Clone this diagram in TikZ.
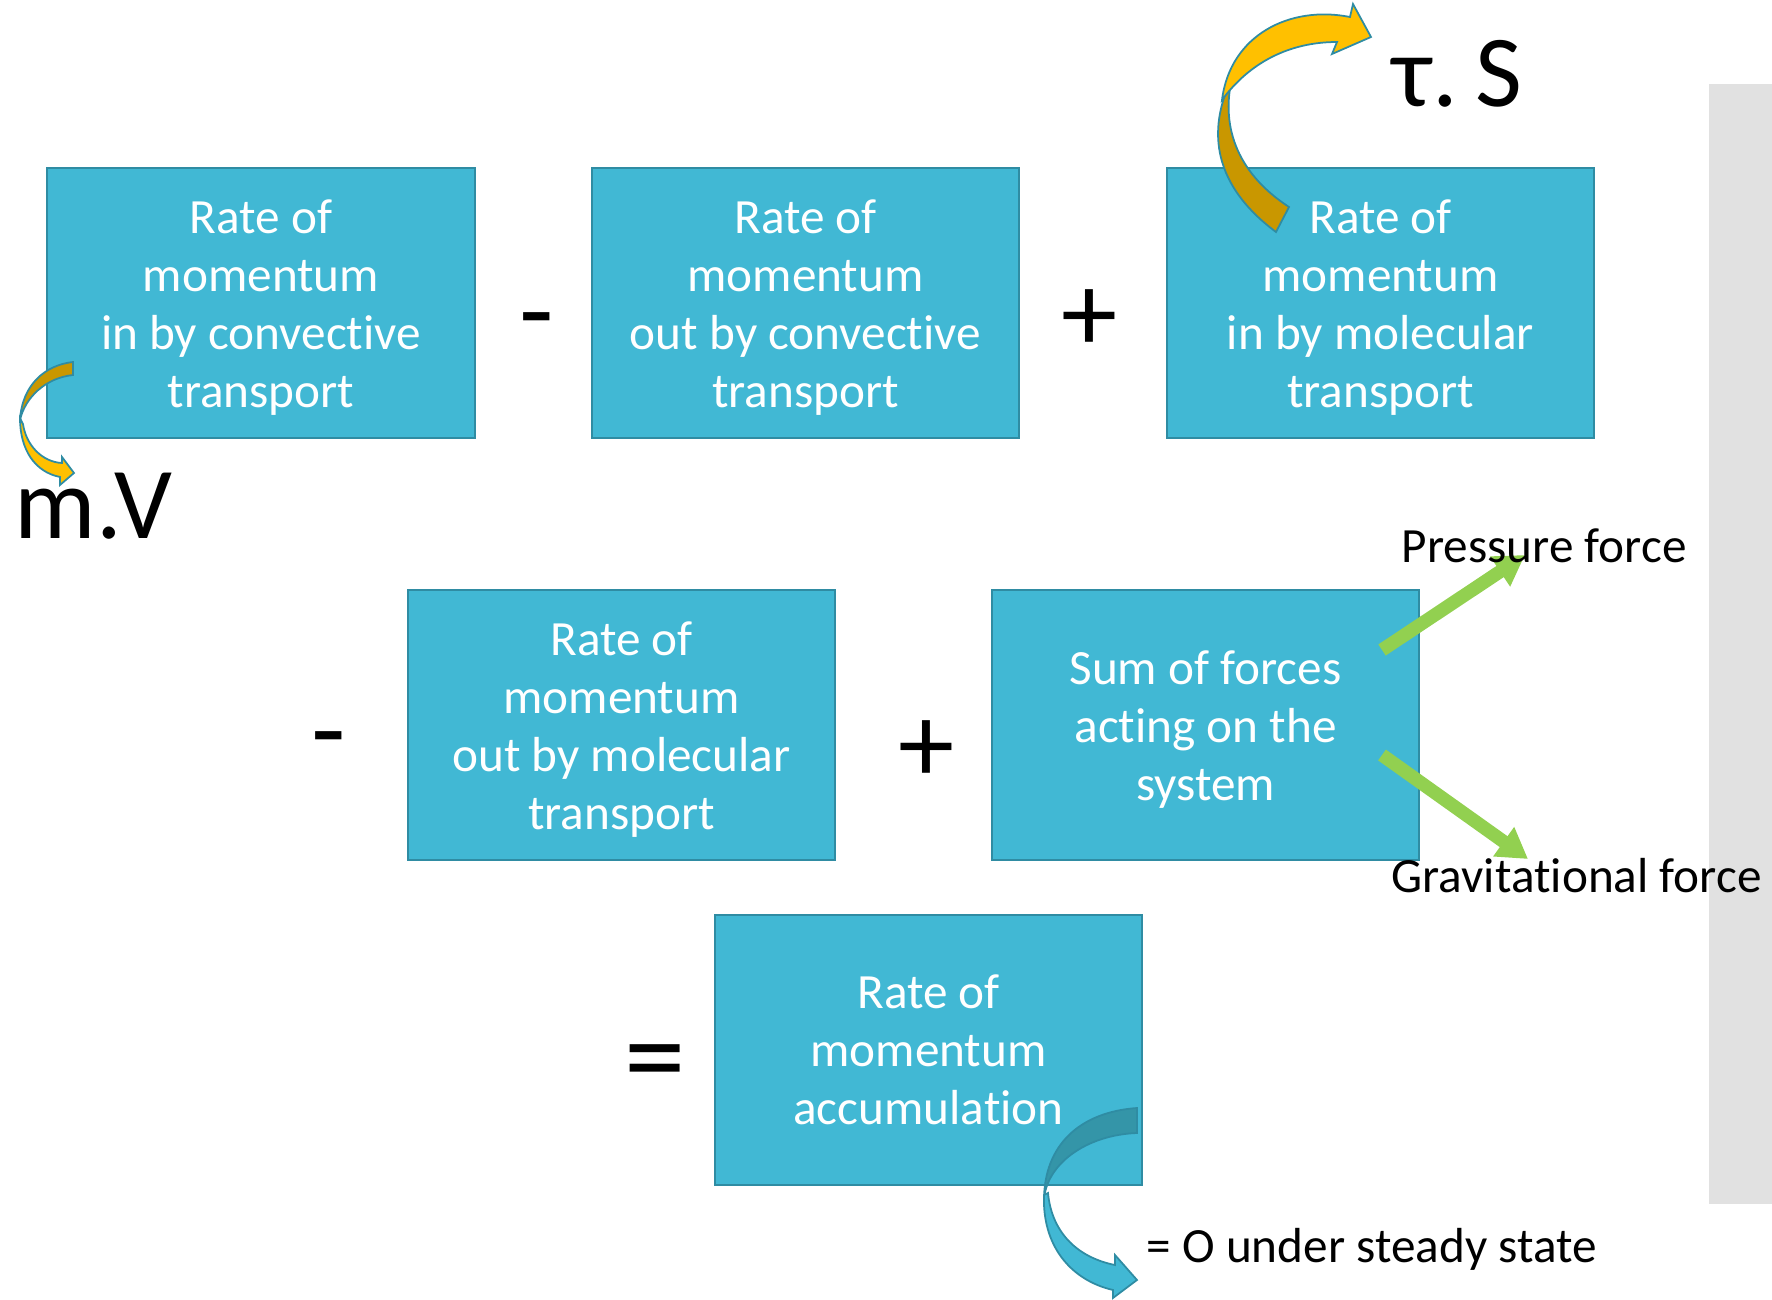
\documentclass[tikz,border=0pt]{standalone}
\usepackage{fontspec}
\setmainfont{Carlito}[Ligatures=NoCommon]
\usetikzlibrary{arrows.meta}
\definecolor{boxfill}{HTML}{41B8D4}
\definecolor{boxline}{HTML}{2F8CA3}
\definecolor{goldlight}{HTML}{FFC000}
\definecolor{golddark}{HTML}{C99700}
\definecolor{tealdark}{HTML}{3495A8}
\definecolor{forcegreen}{HTML}{92D050}
\definecolor{panel}{HTML}{E1E1E1}
\newcommand{\topgap}{\rule{0pt}{12pt}}

\begin{document}
\begin{tikzpicture}[x=0.01cm,y=-0.01cm,
    box/.style={draw=boxline,line width=0.6pt,fill=boxfill,text=white,minimum width=4.27cm,minimum height=2.7cm,inner sep=0pt,align=center,font=\fontsize{14}{16.5}\selectfont},
    sign/.style={anchor=base,inner sep=0pt,font=\fontsize{32}{36}\selectfont},
    big/.style={anchor=base west,inner sep=0pt,font=\fontsize{29}{32}\selectfont},
    lbl/.style={anchor=base west,inner sep=0pt,font=\fontsize{14}{16}\selectfont},
    force/.style={draw=forcegreen,line width=3.8pt,-{Triangle[length=8.5pt,width=9.7pt]}},
    curl/.style={draw=boxline,line width=0.5pt}]
            \useasboundingbox (0,0) rectangle (1772,1300);
            \fill[panel] (1709,84) rectangle (1772,1204);
            \node[box] (b1) at (261,303) {\topgap Rate of\\momentum\\in by convective\\transport};
            \node[box] (b2) at (805.5,303) {\topgap Rate of\\momentum\\out by convective\\transport};
            \node[box] (b3) at (1380.5,303) {\topgap Rate of\\momentum\\in by molecular\\transport};
            \node[box] (b4) at (621.5,725) {\topgap Rate of\\momentum\\out by molecular\\transport};
            \node[box] (b5) at (1205.5,725) {\topgap Sum of forces\\acting on the\\system};
            \node[box] (b6) at (928.5,1050) {Rate of\\momentum\\accumulation};
            \node[sign] (op1) at (537,348) {-};
            \node[sign] (op2) at (1090,351) {+};
            \node[sign] (op3) at (329,767) {-};
            \node[sign] (op4) at (927,782) {+};
            \node[sign,font=\fontsize{35}{40}\selectfont] (op5) at (655,1097) {=};
            \filldraw[curl,fill=golddark] (1276,232) .. controls (1222,192) and (1202,140) .. (1232,78) .. controls (1220,130) and (1240,175) .. (1289,207) -- cycle;
            \filldraw[curl,fill=goldlight] (1222,100) .. controls (1230,35) and (1290,5) .. (1350,17) -- (1353,4) -- (1371,37) -- (1332,54) -- (1337,42) .. controls (1290,42) and (1250,62) .. (1222,100) -- cycle;
            \filldraw[curl,fill=golddark] (73,362) .. controls (45,365) and (22,385) .. (20,420) .. controls (25,398) and (45,378) .. (73,375) -- cycle;
            \filldraw[curl,fill=goldlight] (20,418) .. controls (20,450) and (35,472) .. (60,477) -- (60,485) -- (74,473) -- (62,457) -- (62,463) .. controls (42,462) and (26,445) .. (23,424) -- cycle;
            \filldraw[curl,fill=tealdark] (1137,1108) .. controls (1080,1112) and (1044,1145) .. (1044,1200) .. controls (1046,1165) and (1085,1135) .. (1137,1133) -- cycle;
            \filldraw[curl,fill=boxfill] (1044,1195) .. controls (1042,1245) and (1070,1280) .. (1113,1290) -- (1113,1298) -- (1137,1280) -- (1115,1255) -- (1115,1265) .. controls (1080,1258) and (1052,1235) .. (1048,1193) -- cycle;
            \coordinate (p0) at (1382,650);
            \coordinate (p1) at (1525,555);
            \coordinate (g0) at (1382,755);
            \coordinate (g1) at (1528,859);
            \draw[force] (p0) -- (p1);
            \draw[force] (g0) -- (g1);
            \node[big] (tau) at (1392,107) {τ.\kern5pt S};
            \node[big] (mv) at (14,538) {m.V};
            \node[lbl] (pf) at (1401,562) {Pressure force};
            \node[lbl] (gf) at (1391,892) {Gravitational force};
            \node[lbl] (ss) at (1146,1262) {= O under steady state};
        \end{tikzpicture}
\end{document}
